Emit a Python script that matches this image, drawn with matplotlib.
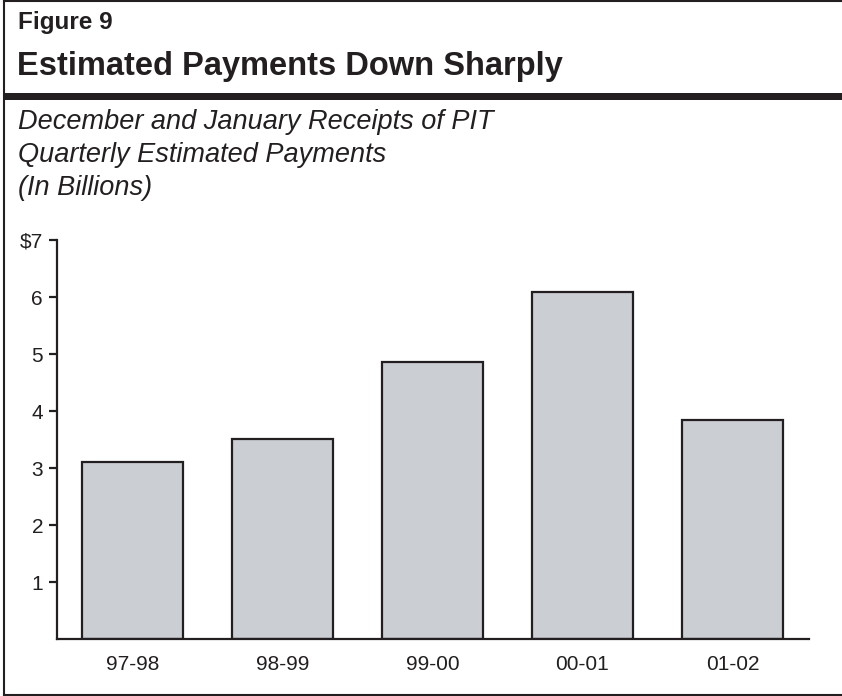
import matplotlib
matplotlib.use("Agg")
import matplotlib.pyplot as plt
from matplotlib.patches import Rectangle
from matplotlib.lines import Line2D

plt.rcParams['font.family'] = ['Liberation Sans', 'DejaVu Sans']

categories = ["97-98", "98-99", "99-00", "00-01", "01-02"]
values = [3.11, 3.52, 4.87, 6.08, 3.84]
ytick_vals = [1, 2, 3, 4, 5, 6, 7]
ytick_labels = ["1", "2", "3", "4", "5", "6", "$7"]

W, H = 842, 696
DARK = "#231f20"
BAR = "#cbced3"

fig = plt.figure(figsize=(W / 100, H / 100), dpi=100)

def fx(x):
    return x / W

def fy(y):
    return 1 - y / H

# Border (left, top, bottom)
fig.add_artist(Line2D([fx(4), fx(4)], [fy(0), fy(695)], color=DARK, lw=1.5))
fig.add_artist(Line2D([fx(4), fx(842)], [fy(695), fy(695)], color=DARK, lw=1.5))
fig.add_artist(Line2D([fx(4), fx(842)], [fy(1), fy(1)], color=DARK, lw=1.5))
# Thick rule under header
fig.add_artist(Rectangle((fx(4), fy(100)), fx(842) - fx(4), (100 - 93) / H,
                         facecolor=DARK, edgecolor='none'))

fig.text(fx(18), fy(29), "Figure 9", fontsize=17.5, fontweight='bold',
         color=DARK, va='baseline', ha='left')
fig.text(fx(17), fy(75), "Estimated Payments Down Sharply", fontsize=23.5,
         fontweight='bold', color=DARK, va='baseline', ha='left')
sub = ["December and January Receipts of PIT",
       "Quarterly Estimated Payments",
       "(In Billions)"]
for line, yb in zip(sub, [129, 162, 195]):
    fig.text(fx(18), fy(yb), line, fontsize=19.5, fontstyle='italic',
             color=DARK, va='baseline', ha='left')

ax = fig.add_axes([fx(57), fy(639.3), (809 - 57) / W, (639.3 - 240) / H])
x = list(range(len(categories)))
ax.bar(x, values, width=0.673, color=BAR, edgecolor=DARK, linewidth=1.6, zorder=2)
ax.set_xlim(-0.503, 4.51)
ax.set_ylim(0, 7)
ax.set_yticks(ytick_vals)
ax.set_yticklabels(ytick_labels)
ax.set_xticks(x)
ax.set_xticklabels(categories)
for s in ['top', 'right']:
    ax.spines[s].set_visible(False)
for s in ['left', 'bottom']:
    ax.spines[s].set_color(DARK)
    ax.spines[s].set_linewidth(1.6)
ax.tick_params(axis='y', length=6, width=1.6, color=DARK, pad=4,
               labelsize=15, labelcolor=DARK)
ax.tick_params(axis='x', length=0, pad=11, labelsize=15, labelcolor=DARK)
ax.set_facecolor('none')

fig.savefig("out.png", dpi=100)
